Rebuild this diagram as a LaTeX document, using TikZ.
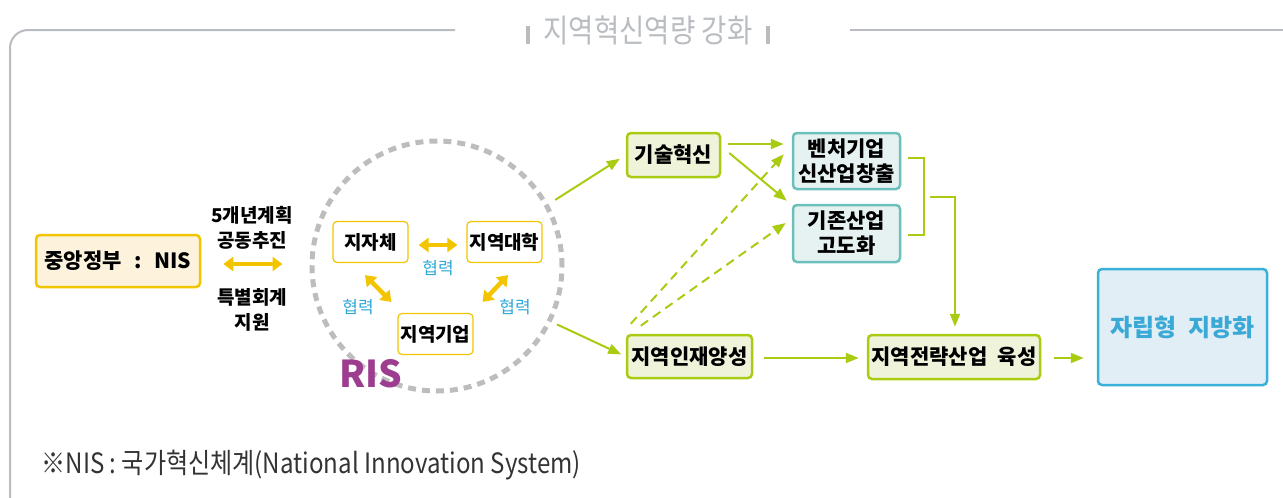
\documentclass[tikz,border=0pt]{standalone}
\usepackage{fontspec}
\setmainfont{Noto Sans CJK KR}
\newfontfamily\krthin[FakeStretch=0.86]{Noto Sans CJK KR}
\usetikzlibrary{arrows.meta,calc}
\definecolor{nisline}{HTML}{F2C500}
\definecolor{nisfill}{HTML}{FDF3DC}
\definecolor{grline}{HTML}{A9CC12}
\definecolor{grfill}{HTML}{EEF3D9}
\definecolor{tline}{HTML}{6CC0BB}
\definecolor{tfill}{HTML}{E6F2F1}
\definecolor{bline}{HTML}{3AB0D8}
\definecolor{bfill}{HTML}{E1EEF6}
\definecolor{btext}{HTML}{3AA9D6}
\definecolor{coop}{HTML}{2FA8D8}
\definecolor{risgray}{HTML}{BDBDBD}
\definecolor{framegray}{HTML}{B9BCC0}
\definecolor{rispurple}{HTML}{9C3D8F}

\begin{document}
\begin{tikzpicture}[x=1pt,y=-1pt,
    box/.style={draw, rounded corners=4pt, align=center, inner sep=2pt,
        font=\bfseries\fontsize{21}{25}\selectfont},
    ybox/.style={box, draw=nisline, fill=nisfill, line width=2.5pt},
    wbox/.style={box, draw=nisline, fill=white, line width=1.2pt,
        minimum width=75pt, minimum height=41pt, font=\bfseries\fontsize{19}{22}\selectfont},
    gbox/.style={box, draw=grline, fill=grfill, line width=2.5pt},
    tbox/.style={box, draw=tline, fill=tfill, line width=2.5pt},
    garrow/.style={draw=grline, line width=2pt, -{Triangle[length=13pt,width=10pt]}},
    gdash/.style={garrow, dash pattern=on 9pt off 6pt},
    yarrow/.style={draw=nisline, line width=4.5pt,
        {Triangle[length=10pt,width=14pt]}-{Triangle[length=10pt,width=14pt]}},
    coop/.style={text=coop, font=\fontsize{17}{20}\selectfont},
    side/.style={align=center, font=\bfseries\fontsize{19}{25}\selectfont}]
\useasboundingbox (0,0) rectangle (1283,498);

\draw[framegray, line width=2pt, rounded corners=18pt] (455,30) -- (10,30) -- (10,498);
\draw[framegray, line width=2pt] (850,30) -- (1283,30);
\node[text=framegray, font=\krthin\fontsize{32}{36}\selectfont] (title) at (648,30)
    {\rule[-2pt]{4pt}{18pt}\hspace{14pt}지역혁신역량 강화\hspace{14pt}\rule[-2pt]{4pt}{18pt}};

\node[ybox, minimum width=164pt, minimum height=52pt] (nis) at (118,261)
    {중앙정부\hspace{0.6em}:\hspace{0.6em}NIS};
\node[side] (plan) at (252,228) {5개년계획\\공동추진};
\node[side] (fund) at (252,310) {특별회계\\지원};

\node[circle, draw=risgray, line width=5pt, dash pattern=on 8pt off 6pt,
    minimum size=250pt] (ris) at (437,266) {};
\node[text=rispurple, font=\bfseries\fontsize{37}{40}\selectfont] (rislabel) at (371,374) {RIS};

\node[wbox] (jijache) at (370.5,242) {지자체};
\node[wbox] (daehak) at (504.5,242) {지역대학};
\node[wbox] (gieop) at (435.5,334) {지역기업};
\node[coop] (coop1) at (438,268) {협력};
\node[coop] (coop2) at (358,307) {협력};
\node[coop] (coop3) at (515,307) {협력};

\node[gbox, minimum width=93pt, minimum height=44pt] (gisul) at (673.5,155) {기술혁신};
\node[tbox, minimum width=107pt, minimum height=56pt] (venture) at (846.5,161) {벤처기업\\신산업창출};
\node[tbox, minimum width=107pt, minimum height=57pt] (gijon) at (846.5,233.5) {기존산업\\고도화};
\node[gbox, minimum width=125pt, minimum height=43pt] (injae) at (689.5,356.5) {지역인재양성};
\node[gbox, minimum width=172pt, minimum height=44pt] (jeollyak) at (954,357)
    {지역전략산업\hspace{0.5em}육성};
\node[box, draw=bline, fill=bfill, line width=2.5pt, minimum width=169pt, minimum height=116pt,
    text=btext, font=\bfseries\fontsize{24}{28}\selectfont] (jarip) at (1182.5,327)
    {자립형\hspace{0.5em}지방화};

\draw[yarrow] ($(nis.east)+(22,3)$) -- ($(ris.west)+(-27,-2)$);
\draw[yarrow] ($(jijache.east)+(10,3)$) -- ($(daehak.west)+(-9,3)$);
\draw[yarrow] ($(jijache.south)+(-5.5,12)$) -- ($(gieop.north west)+(-6,-11)$);
\draw[yarrow] ($(daehak.south)+(3.5,12)$) -- ($(gieop.north east)+(9,-11)$);

\draw[garrow, shorten <=8pt, shorten >=7pt] (ris.29) -- (gisul.west);
\draw[garrow, shorten <=6pt, shorten >=5pt] (ris.-26) -- (injae.west);
\draw[garrow] ($(gisul.east)+(7,-11)$) -- ($(venture.west)+(-8,-17)$);
\draw[garrow] ($(gisul.east)+(8,-2)$) -- ($(gijon.north west)+(-5,-3)$);
\draw[gdash] ($(injae.north west)+(5,-10)$) -- ($(venture.south west)+(-8,-36)$);
\draw[gdash] ($(injae.north west)+(15,-8)$) -- ($(gijon.west)+(-6,-10.5)$);
\draw[garrow] ($(injae.east)+(11,1.5)$) -- ($(jeollyak.west)+(-8,1)$);
\draw[grline, line width=2pt] ($(venture.east)+(7,-3)$) -- ++(16,0) |- ($(gijon.east)+(7,1.5)$);
\coordinate (merge) at (930,197);
\draw[garrow] (merge) -| ($(jeollyak.north)+(1,-7)$);
\draw[garrow] ($(jeollyak.east)+(13,1)$) -- ($(jarip.west)+(-13,31)$);

\node[anchor=west, text=black!80, font=\krthin\fontsize{28}{32}\selectfont] (note) at (38,465)
    {※NIS : 국가혁신체계(National Innovation System)};
\end{tikzpicture}
\end{document}
